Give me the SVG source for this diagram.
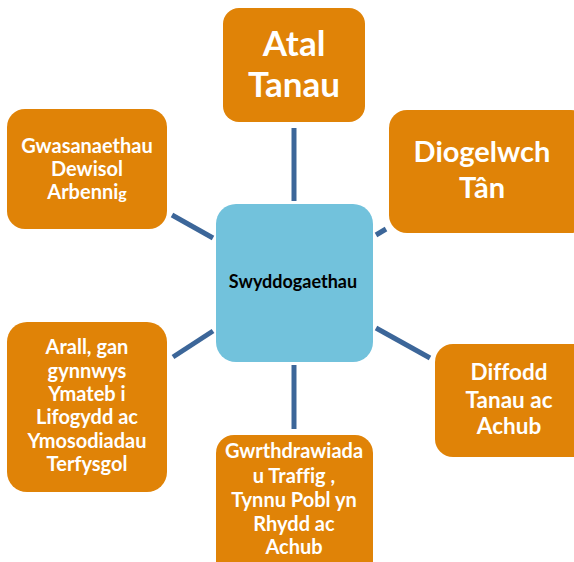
<svg xmlns="http://www.w3.org/2000/svg" width="574" height="562" viewBox="0 0 574 562">
<style>
.box{fill:#E08307}
.hub{fill:#72C2DC}
.t{font-family:Lato,"Open Sans","Liberation Sans",sans-serif;font-weight:bold;fill:#FFFFFF;text-anchor:middle;font-variant-ligatures:none}
.c{font-family:Lato,"Open Sans","Liberation Sans",sans-serif;font-weight:bold;fill:#000000;text-anchor:middle}
.ln{stroke:#3C6699;stroke-width:5;fill:none}
</style>
<rect width="574" height="562" fill="#FFFFFF"/>
<g id="connectors">
<line class="ln" x1="294" y1="128" x2="294" y2="201"/>
<line class="ln" x1="376" y1="235" x2="386" y2="229"/>
<line class="ln" x1="172" y1="215" x2="213" y2="238"/>
<line class="ln" x1="173" y1="357" x2="213" y2="331"/>
<line class="ln" x1="376" y1="328" x2="430" y2="358"/>
<line class="ln" x1="294" y1="365" x2="294" y2="429"/>
</g>
<g id="hub">
<rect class="hub" x="216" y="204" width="157" height="158" rx="20"/>
<text class="c" x="293" y="288" font-size="18">Swyddogaethau</text>
</g>
<g id="atal">
<rect class="box" x="223" y="8" width="142" height="114" rx="16"/>
<text class="t" x="294" y="56" font-size="35">Atal</text>
<text class="t" x="294" y="97" font-size="35">Tanau</text>
</g>
<g id="diogelwch">
<rect class="box" x="389" y="110" width="200" height="123" rx="18"/>
<text class="t" x="482" y="162" font-size="29">Diogelwch</text>
<text class="t" x="482" y="198" font-size="29">Tân</text>
</g>
<g id="gwasanaethau">
<rect class="box" x="7" y="109" width="160" height="120" rx="18"/>
<text class="t" x="87" y="153" font-size="20">Gwasanaethau</text>
<text class="t" x="87" y="176" font-size="20">Dewisol</text>
<text class="t" x="87" y="199" font-size="20">Arbenni<tspan font-size="16">g</tspan></text>
</g>
<g id="arall">
<rect class="box" x="7" y="322" width="160" height="170" rx="20"/>
<text class="t" x="87" y="354" font-size="20">Arall, gan</text>
<text class="t" x="87" y="378" font-size="20">gynnwys</text>
<text class="t" x="87" y="401" font-size="20">Ymateb i</text>
<text class="t" x="87" y="424" font-size="20">Lifogydd ac</text>
<text class="t" x="87" y="448" font-size="20">Ymosodiadau</text>
<text class="t" x="87" y="471" font-size="20">Terfysgol</text>
</g>
<g id="gwrthdrawiadau">
<rect class="box" x="216" y="435" width="157" height="150" rx="18"/>
<text class="t" x="294" y="458" font-size="20">Gwrthdrawiada</text>
<text class="t" x="294" y="483" font-size="20">u Traffig ,</text>
<text class="t" x="294" y="507" font-size="20">Tynnu Pobl yn</text>
<text class="t" x="294" y="531" font-size="20">Rhydd ac</text>
<text class="t" x="294" y="554" font-size="20">Achub</text>
</g>
<g id="diffodd">
<rect class="box" x="435" y="344" width="160" height="113" rx="18"/>
<text class="t" x="509" y="380" font-size="22.5">Diffodd</text>
<text class="t" x="509" y="408" font-size="22.5">Tanau ac</text>
<text class="t" x="509" y="434" font-size="22.5">Achub</text>
</g>
</svg>
